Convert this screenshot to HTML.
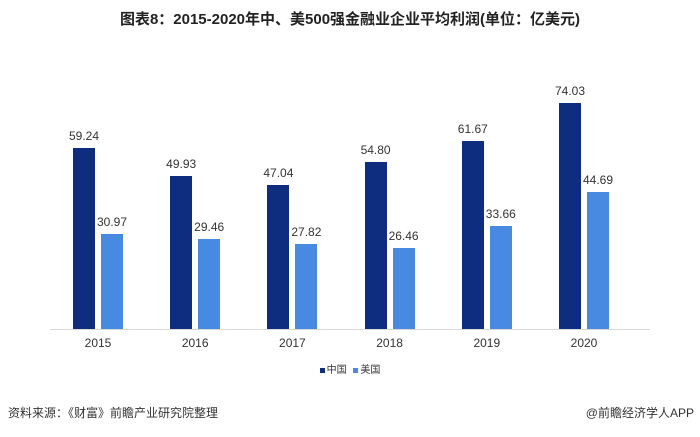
<!DOCTYPE html>
<html><head><meta charset="utf-8"><style>
body{margin:0;width:700px;height:437px;background:#fff;position:relative;overflow:hidden;font-family:"Liberation Sans","Noto Sans CJK SC",sans-serif;}
.t{position:absolute;left:0;width:700px;top:8px;text-align:center;font-weight:bold;font-size:15px;color:#222;}
.b{position:absolute;width:22px;}
.d{background:#0e2d7f;}
.l{background:#4889e2;}
.v{position:absolute;width:60px;text-align:center;font-size:12px;color:#333;}
.y{position:absolute;width:60px;text-align:center;font-size:12px;color:#333;top:336px;}
.ax{position:absolute;left:50px;width:600px;top:329px;height:1px;background:#d8d8d8;}
</style></head><body>
<div class="t">图表8：2015-2020年中、美500强金融业企业平均利润(单位：亿美元)</div>
<div class="ax"></div>
<div id="c"></div>
<div style="position:absolute;left:0;width:700px;top:361px;text-align:center;font-size:10px;color:#333"><span style="display:inline-block;width:5px;height:5px;background:#0e2d7f;margin-right:2px"></span>中国 <span style="display:inline-block;width:5px;height:5px;background:#4889e2;margin:0 2px 0 4px"></span>美国</div>
<div style="position:absolute;left:8px;top:404px;font-size:12px;color:#333">资料来源：《财富》前瞻产业研究院整理</div>
<div style="position:absolute;right:6px;top:404px;font-size:12px;color:#333">@前瞻经济学人APP</div>
<script>
var cn=[59.24,49.93,47.04,54.80,61.67,74.03],us=[30.97,29.46,27.82,26.46,33.66,44.69],y=[2015,2016,2017,2018,2019,2020];
var h='',k=3.055,B=329;
for(var i=0;i<6;i++){var x=73+i*97.2;
var hc=cn[i]*k,hu=us[i]*k;
h+='<div class="b d" style="left:'+x+'px;top:'+(B-hc)+'px;height:'+hc+'px"></div>';
h+='<div class="b l" style="left:'+(x+28)+'px;top:'+(B-hu)+'px;height:'+hu+'px"></div>';
h+='<div class="v" style="left:'+(x-19)+'px;top:'+(B-hc-19)+'px">'+cn[i].toFixed(2)+'</div>';
h+='<div class="v" style="left:'+(x+9)+'px;top:'+(B-hu-19)+'px">'+us[i].toFixed(2)+'</div>';
h+='<div class="y" style="left:'+(x-5)+'px">'+y[i]+'</div>';}
document.getElementById('c').innerHTML=h;
</script>
</body></html>
